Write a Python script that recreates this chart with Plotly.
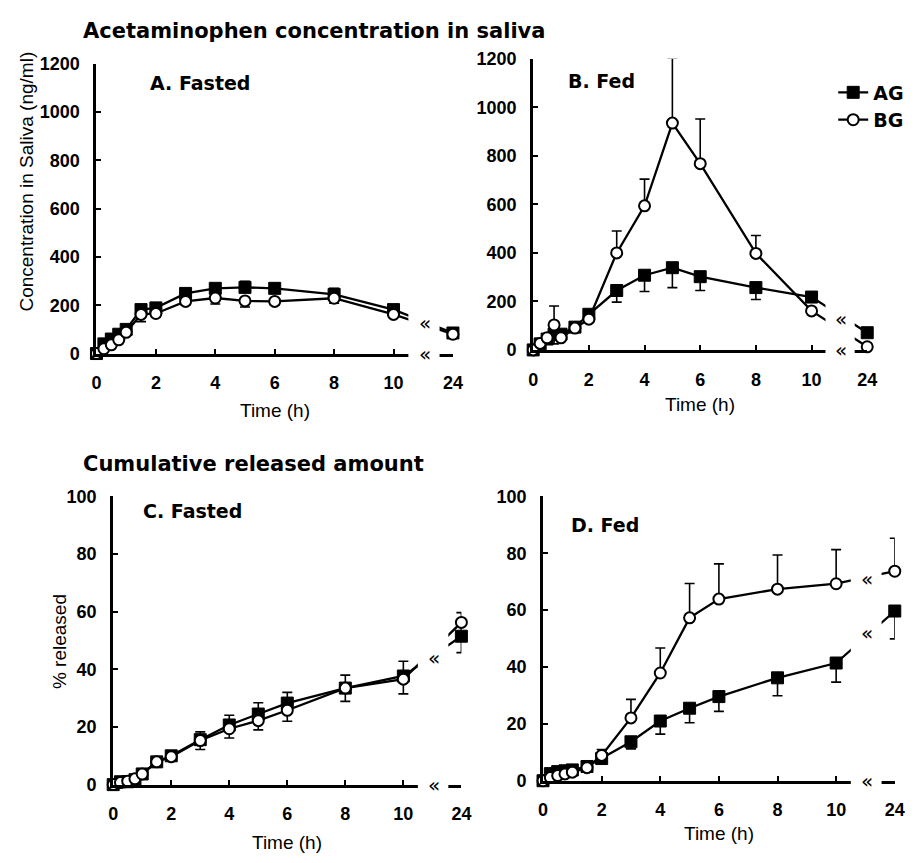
import plotly.graph_objects as go

# ---------------- data ----------------
time_h = [0, 0.25, 0.5, 0.75, 1, 1.5, 2, 3, 4, 5, 6, 8, 10, 24]
x_tick_labels = ["0", "2", "4", "6", "8", "10", "24"]
x_tick_hours = [0, 2, 4, 6, 8, 10, 24]
y_ticks_conc = [0, 200, 400, 600, 800, 1000, 1200]
y_ticks_pct = [0, 20, 40, 60, 80, 100]

# A. Fasted - saliva concentration (ng/ml)
ag_a = [0, 40, 60, 80, 100, 182, 189, 249, 270, 274, 270, 245, 182, 85]
ag_a_err_up = [0, 0, 0, 0, 10, 20, 15, 20, 20, 25, 20, 25, 15, 10]
bg_a = [0, 20, 36, 57, 88, 162, 166, 216, 230, 218, 216, 229, 162, 80]
bg_a_err_down = [0, 0, 0, 0, 10, 30, 15, 15, 25, 25, 15, 20, 10, 10]

# B. Fed - saliva concentration (ng/ml)
ag_b = [0, 25, 45, 65, 65, 94, 147, 245, 308, 339, 302, 257, 218, 71]
ag_b_err_down = [0, 0, 0, 40, 0, 0, 0, 48, 67, 82, 57, 49, 10, 0]
bg_b = [0, 27, 50, 103, 50, 90, 127, 400, 594, 935, 768, 398, 161, 13]
bg_b_err_up = [0, 0, 0, 78, 0, 0, 0, 90, 110, 268, 184, 74, 0, 0]

# C. Fasted - % released
ag_c = [0, 1, 1, 1.7, 3.7, 7.9, 10, 15.6, 20.7, 24.5, 28.3, 33.5, 37.7, 51.5]
ag_c_err_up = [0, 0, 0, 0, 0, 0, 0.5, 2.7, 3.4, 3.9, 3.7, 4.5, 5.1, 8.2]
bg_c = [0, 0.7, 1.2, 2, 3.7, 7.9, 9.7, 15.3, 19.4, 22.2, 25.8, 33.5, 36.6, 56.3]
bg_c_err_down = [0, 0, 0, 0, 0, 0, 0.5, 3.1, 3.2, 3.2, 3.8, 4.6, 5.1, 10.5]

# D. Fed - % released
ag_d = [0, 2.5, 3.2, 3.5, 3.8, 5.0, 7.8, 13.7, 21, 25.5, 29.6, 36.2, 41.4, 59.7]
ag_d_err_down = [0, 0, 0, 0, 0, 0, 0, 2.5, 4.6, 5.1, 5.2, 6.3, 6.7, 9.8]
bg_d = [0, 1.1, 1.8, 2.4, 3, 4.6, 8.9, 22.1, 37.9, 57.3, 63.9, 67.4, 69.3, 73.7]
bg_d_err_up = [0, 0, 0, 0, 0, 0, 2.1, 6.5, 8.8, 12.1, 12.4, 12.0, 12.0, 11.6]

# ---------------- helpers ----------------
W, H = 915, 863


def px(x):
    return x / W


def py(y):
    return 1 - y / H


def axis_pos(t):
    # broken time axis: 0-10 h linear, 24 h drawn at position 12
    return t if t <= 10 else 10 + 2 * (t - 10) / 14


xpos = [axis_pos(t) for t in time_h]
x_tickvals = [axis_pos(t) for t in x_tick_hours]


def bold(labels):
    return ["<b>%s</b>" % s for s in labels]


TICKF = dict(family="Liberation Sans, Arial, sans-serif", size=18, color="black", weight="bold")
REG = dict(family="Liberation Sans, Arial, sans-serif", size=19, color="black")
HEAVY = dict(family="DejaVu Sans, sans-serif", size=21, color="black", weight="bold")
LABEL = dict(family="DejaVu Sans, sans-serif", size=19, color="black", weight="bold")

fig = go.Figure()

panels = [
    ("", ag_a, ag_a_err_up, "up", bg_a, bg_a_err_down, "down", False),
    ("2", ag_b, ag_b_err_down, "down", bg_b, bg_b_err_up, "up", True),
    ("3", ag_c, ag_c_err_up, "up", bg_c, bg_c_err_down, "down", False),
    ("4", ag_d, ag_d_err_down, "down", bg_d, bg_d_err_up, "up", False),
]


def err(vals, direction):
    zeros = [0] * len(vals)
    if direction == "up":
        return dict(type="data", symmetric=False, array=vals, arrayminus=zeros,
                    color="black", thickness=1.6, width=5)
    return dict(type="data", symmetric=False, array=zeros, arrayminus=vals,
                color="black", thickness=1.6, width=5)


for suf, ag, ag_e, ag_dir, bg, bg_e, bg_dir, leg in panels:
    fig.add_trace(go.Scatter(
        x=xpos, y=ag, mode="lines+markers", name="AG",
        xaxis="x" + suf, yaxis="y" + suf,
        line=dict(color="black", width=2.3),
        marker=dict(symbol="square", size=12, color="black", line=dict(color="black", width=1)),
        error_y=err(ag_e, ag_dir), cliponaxis=False,
        showlegend=leg, legend="legend",
    ))
    fig.add_trace(go.Scatter(
        x=xpos, y=bg, mode="lines+markers", name="BG",
        xaxis="x" + suf, yaxis="y" + suf,
        line=dict(color="black", width=2.3),
        marker=dict(symbol="circle", size=11, color="white", line=dict(color="black", width=2)),
        error_y=err(bg_e, bg_dir), cliponaxis=False,
        showlegend=leg, legend="legend2",
    ))

# ---------------- axes ----------------
domains = {
    "": ((93, 455.4), (351.7, 55), [0, 1200], y_ticks_conc),
    "2": ((537, 876.6), (348, 50), [0, 1200], y_ticks_conc),
    "3": ((110, 464), (793, 498), [0, 100], y_ticks_pct),
    "4": ((547, 904.6), (789, 498), [0, 100], y_ticks_pct),
}

layout = dict(
    width=W, height=H, margin=dict(l=0, r=0, t=0, b=0),
    paper_bgcolor="white", plot_bgcolor="white",
    showlegend=True,
)

for suf, ((x0, x1), (yb, yt), yr, yt_vals) in domains.items():
    layout["xaxis" + suf] = dict(
        domain=[px(x0), px(x1)], range=[0, 12], anchor="y" + suf,
        tickvals=x_tickvals, ticktext=bold(x_tick_labels),
        ticks="inside", ticklen=5, tickwidth=2, tickcolor="black",
        showline=True, linewidth=3, linecolor="black",
        showgrid=False, zeroline=False, tickfont=TICKF,
        ticklabelstandoff=11, fixedrange=True,
    )
    layout["yaxis" + suf] = dict(
        domain=[py(yb), py(yt)], range=yr, anchor="x" + suf,
        tickvals=yt_vals, ticktext=bold([str(v) for v in yt_vals]),
        ticks="inside", ticklen=5, tickwidth=2, tickcolor="black",
        showline=True, linewidth=3, linecolor="black",
        showgrid=False, zeroline=False, tickfont=TICKF,
        ticklabelstandoff=10, fixedrange=True,
    )

LEGF = dict(family="DejaVu Sans, sans-serif", size=19, color="black", weight="bold")
layout["legend"] = dict(
    x=px(842), y=py(65), xanchor="left", yanchor="top", font=LEGF,
    bgcolor="rgba(0,0,0,0)", borderwidth=0, itemwidth=30,
)
layout["legend2"] = dict(
    x=px(842), y=py(93), xanchor="left", yanchor="top", font=LEGF,
    bgcolor="rgba(0,0,0,0)", borderwidth=0, itemwidth=30,
)

# axis breaks: white gap between 10 h and 24 h
shapes = []
for suf in ["", "2", "3", "4"]:
    shapes.append(dict(
        type="rect", xref="x" + suf, yref=("y" + suf + " domain") if suf else "y domain",
        x0=10.5, x1=11.55, y0=-0.03, y1=1.03,
        fillcolor="white", line=dict(width=0), layer="above",
    ))
layout["shapes"] = shapes

annotations = []


def ann(text, x, y, font, xanchor="left", yanchor="middle", xref="paper", yref="paper", textangle=0):
    annotations.append(dict(text=text, x=x, y=y, xref=xref, yref=yref, showarrow=False,
                            font=font, xanchor=xanchor, yanchor=yanchor, textangle=textangle))


ann("Acetaminophen concentration in saliva", px(77), py(22), HEAVY)
ann("Cumulative released amount", px(77), py(465), HEAVY)
ann("A. Fasted", px(145), py(75), LABEL)
ann("B. Fed", px(570), py(73), LABEL)
ann("C. Fasted", px(138), py(513), LABEL)
ann("D. Fed", px(573), py(527), LABEL)
ann("Concentration in Saliva (ng/ml)", px(22), py(176), REG, xanchor="center", textangle=-90)
ann("% released", px(55), py(647), REG, xanchor="center", textangle=-90)
for suf, ypix in [("", 410), ("2", 404), ("3", 852), ("4", 843)]:
    ann("Time (h)", 6, py(ypix), REG, xanchor="center", xref="x" + suf)

# break marks
BRK = dict(family="DejaVu Sans, sans-serif", size=20, color="black")
breaks = {
    "": [128, 0],
    "2": [129, 0],
    "3": [44, 0],
    "4": [71, 52, 0],
}
for suf, ys in breaks.items():
    for yv in ys:
        ann("«", 11.05, yv, BRK, xanchor="center", xref="x" + suf, yref="y" + suf)

layout["annotations"] = annotations
fig.update_layout(**layout)
fig.write_html("out.html")
